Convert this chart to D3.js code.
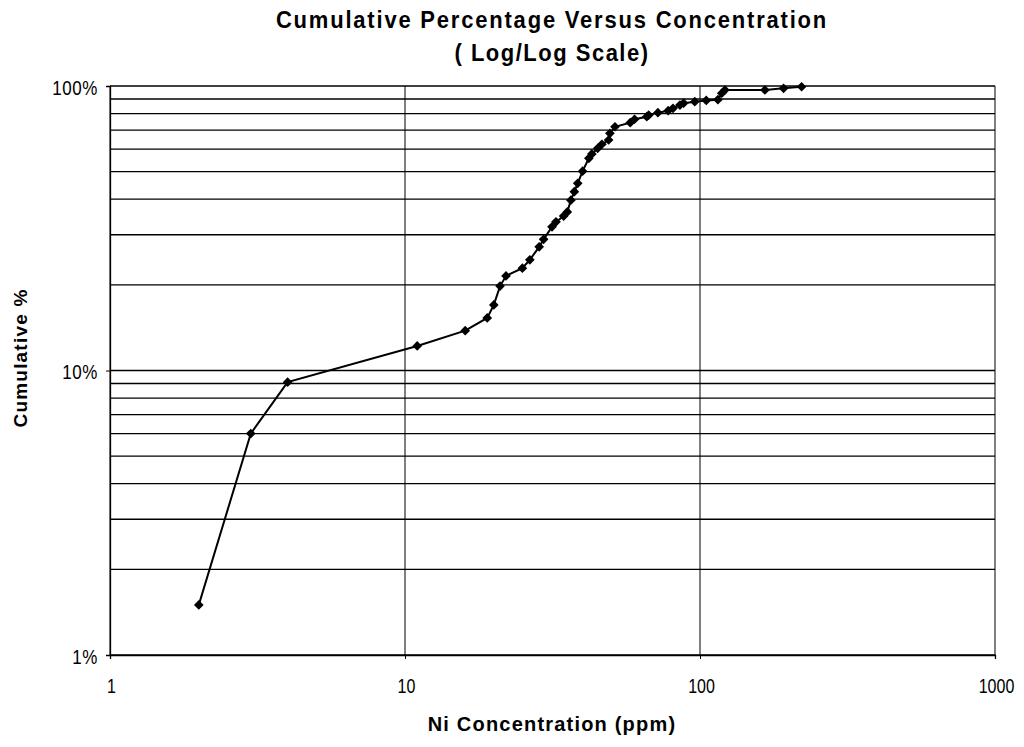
<!DOCTYPE html>
<html><head><meta charset="utf-8">
<script src="https://cdn.jsdelivr.net/npm/d3@7"></script>
<style>body{margin:0;background:#fff}svg{display:block}text{font-family:"Liberation Sans",Arial,sans-serif}</style>
</head><body><svg id="c" width="1024" height="747"></svg>
<script>
const concentration = [2,3,4,11,16,19,20,21,22,25,26.5,28.5,29.5,31.5,32.5,34.5,35.5,36.5,37.5,38.5,40,42,43,45,46.5,49,49.5,51.5,58,60,66,67,72,78,81,85.5,88,96,105,115,118.5,121.5,166,192,221];
const cumulativePct = [1.5,6,9.1,12.2,13.8,15.3,17,19.8,21.5,22.9,24.5,27.2,28.9,32,33.3,34.9,36.1,39.7,42.5,45.5,50.2,55.7,57.7,60.4,62.4,64.6,68.2,71.9,74.3,76.4,78,79,80.6,81.9,83.5,85.7,87,88.1,89,89.5,94.3,96.8,96.8,98.1,99.4];
const xTicks = [1,10,100,1000];
const yTicks = [1,10,100];
const yGrid = [1,2,3,4,5,6,7,8,9,10,20,30,40,50,60,70,80,90,100];

const svg = d3.select("#c");
const L=110,R=995,T=86,B=655;
const x = d3.scaleLog().domain([1,1000]).range([L,R]);
const y = d3.scaleLog().domain([1,100]).range([B,T]);

const g = svg.append("g");
g.selectAll("line.h").data(yGrid).join("line")
 .attr("x1",L).attr("x2",R).attr("y1",d=>y(d)).attr("y2",d=>y(d))
 .attr("stroke","#000").attr("stroke-width",1.3);
g.selectAll("line.v").data(xTicks).join("line")
 .attr("x1",d=>x(d)).attr("x2",d=>x(d)).attr("y1",T).attr("y2",B)
 .attr("stroke","#000").attr("stroke-width",1);

const xa = svg.append("g").attr("transform",`translate(0,${B})`)
 .call(d3.axisBottom(x).tickValues(xTicks).tickFormat(d3.format("d")).tickSize(4));
const ya = svg.append("g").attr("transform",`translate(${L},0)`)
 .call(d3.axisLeft(y).tickValues(yTicks).tickFormat(d=>d+"%").tickSize(4));
[xa,ya].forEach(a=>{a.select(".domain").attr("stroke","#000").attr("stroke-width",1.3);
 a.selectAll("text").attr("fill","#000").style("font-family","Liberation Sans, Arial, sans-serif");
 a.selectAll(".tick line").attr("stroke","#000");});
xa.selectAll("text").attr("font-size",16).attr("y",0).attr("dy",0).attr("x",1)
 .attr("transform","translate(0,38) scale(1,1.25)");
ya.selectAll("text").attr("font-size",17).attr("letter-spacing",0.6).attr("x",0).attr("dy",0)
 .attr("transform","translate(-12,8) scale(1,1.15)");

const pts = concentration.map((c,i)=>[c,cumulativePct[i]]);
svg.append("path").datum(pts)
 .attr("d",d3.line().x(d=>x(d[0])).y(d=>y(d[1])))
 .attr("fill","none").attr("stroke","#000").attr("stroke-width",2);
svg.selectAll("path.m").data(pts).join("path").attr("class","m")
 .attr("transform",d=>`translate(${x(d[0])},${y(d[1])})`)
 .attr("d",d3.symbol(d3.symbolDiamond2,60)).attr("fill","#000");

svg.append("text").attr("transform","translate(552,28) scale(1,1.12)").attr("text-anchor","middle")
 .attr("font-size",22).attr("font-weight","bold").attr("letter-spacing",1.8).text("Cumulative Percentage Versus Concentration");
svg.append("text").attr("transform","translate(552,61) scale(1,1.12)").attr("text-anchor","middle")
 .attr("font-size",22).attr("font-weight","bold").attr("letter-spacing",1.5).text("( Log/Log Scale)");
svg.append("text").attr("transform","translate(552,731) scale(1,1.05)").attr("text-anchor","middle")
 .attr("font-size",20).attr("font-weight","bold").attr("letter-spacing",1.2).text("Ni Concentration (ppm)");
svg.append("text").attr("transform","translate(27,358) rotate(-90)").attr("text-anchor","middle")
 .attr("font-size",19).attr("font-weight","bold").attr("letter-spacing",1.2).text("Cumulative %");
</script></body></html>
